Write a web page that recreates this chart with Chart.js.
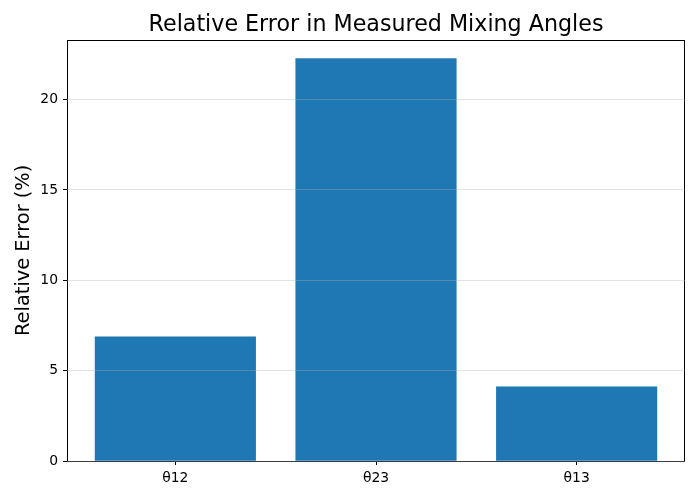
<!DOCTYPE html>
<html>
<head>
<meta charset="utf-8">
<script src="https://cdn.jsdelivr.net/npm/chart.js@4.4.1/dist/chart.umd.min.js"></script>
<style>
  html, body { margin: 0; padding: 0; background: #fff; }
  #wrap { width: 700px; height: 500px; }
</style>
</head>
<body>
<div id="wrap"><canvas id="c" width="700" height="500"></canvas></div>
<script>
const angles = ['θ12', 'θ23', 'θ13'];
const relError = [6.87, 22.27, 4.10];
const yTicks = [0, 5, 10, 15, 20];

const font = 'DejaVu Sans';

// black frame round the plot area, like matplotlib spines
const frame = {
  id: 'frame',
  afterDatasetsDraw(chart) {
    const a = chart.chartArea, ctx = chart.ctx;
    ctx.save();
    ctx.strokeStyle = '#000';
    ctx.lineWidth = 1;
    ctx.strokeRect(Math.round(a.left) + 0.5, Math.round(a.top) + 0.5,
      Math.round(a.right - a.left) - 1, Math.round(a.bottom - a.top));
    ctx.restore();
  }
};

new Chart(document.getElementById('c'), {
  type: 'bar',
  data: {
    datasets: [{
      data: angles.map((a, i) => ({ x: i, y: relError[i] })),
      backgroundColor: '#1f77b4',
      barThickness: 160.5
    }]
  },
  options: {
    responsive: false,
    animation: false,
    layout: { padding: { left: 0, right: 15, top: 0, bottom: 0 } },
    plugins: {
      legend: { display: false },
      tooltip: { enabled: false },
      title: {
        display: true,
        fullSize: false, // centre over the plot area, not the canvas
        text: 'Relative Error in Measured Mixing Angles',
        color: '#000',
        font: { family: font, size: 22.2, weight: 'normal', lineHeight: 1.2 },
        padding: { top: 12, bottom: 1 }
      }
    },
    scales: {
      x: {
        type: 'linear',
        offset: false,
        min: -0.54,
        max: 2.54,
        afterBuildTicks: s => { s.ticks = angles.map((a, i) => ({ value: i })); },
        afterFit: s => { s.height = 39; },
        grid: { offset: false, drawOnChartArea: false, tickColor: '#000', tickLength: 4 },
        border: { display: false },
        ticks: {
          color: '#000',
          padding: 5,
          font: { family: font, size: 13.9 },
          callback: v => angles[v]
        }
      },
      y: {
        min: 0,
        max: 23.32,
        afterBuildTicks: s => { s.ticks = yTicks.map(v => ({ value: v })); },
        afterFit: s => { s.width = 67; },
        grid: { color: 'rgba(176,176,176,0.35)', tickColor: '#000', tickLength: 4, z: 1 },
        border: { display: false },
        ticks: {
          color: '#000',
          padding: 5,
          font: { family: font, size: 13.9 }
        },
        title: {
          display: true,
          text: 'Relative Error (%)',
          color: '#000',
          font: { family: font, size: 19.4 },
          padding: { top: 12, bottom: 0 }
        }
      }
    }
  },
  plugins: [frame]
});
</script>
</body>
</html>
